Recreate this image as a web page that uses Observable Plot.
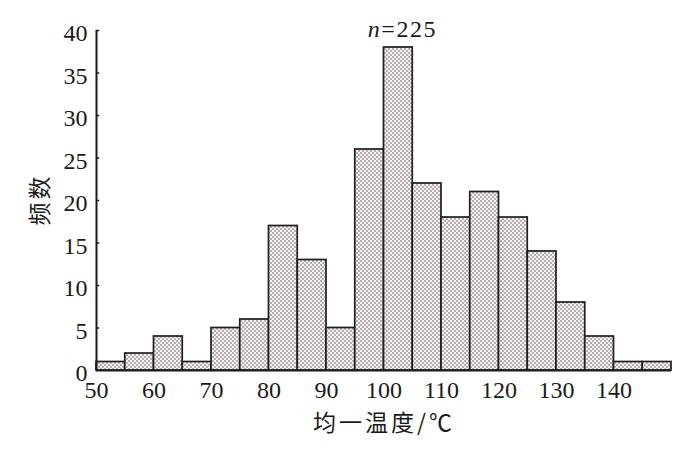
<!DOCTYPE html>
<html><head><meta charset="utf-8">
<script src="https://cdn.jsdelivr.net/npm/d3@7"></script>
<script src="https://cdn.jsdelivr.net/npm/@observablehq/plot@0.6"></script>
<style>body{margin:0;background:#fff}</style>
</head><body><div id="chart"></div>
<script>
const binStarts = [50,55,60,65,70,75,80,85,90,95,100,105,110,115,120,125,130,135,140,145];
const binEnds   = [55,60,65,70,75,80,85,90,95,100,105,110,115,120,125,130,135,140,145,150];
const counts    = [1,2,4,1,5,6,17,13,5,26,38,22,18,21,18,14,8,4,1,1];
const xTicks = [50,60,70,80,90,100,110,120,130,140];
const yTicks = [0,5,10,15,20,25,30,35,40];
const xTitle = "均一温度/℃";
const yTitle = "频数";
const annotation = "n=225";

const data = binStarts.map((s,i)=>({x1:s, x2:binEnds[i], count:counts[i]}));
const tallest = data.reduce((a,b)=> b.count > a.count ? b : a);
const serif = "'Liberation Serif', 'Times New Roman', serif";
const cjk = "'Noto Sans CJK SC', sans-serif";
const ink = "#1a1a1a";

const chart = Plot.plot({
  width: 700, height: 454,
  marginLeft: 96, marginRight: 29, marginTop: 30, marginBottom: 84,
  style: {fontFamily: serif, fontSize: "24px", background: "#fff", color: ink},
  x: {domain: [50,150]},
  y: {domain: [0,40]},
  marks: [
    Plot.rectY(data, {x1:"x1", x2:"x2", y:"count", fill:"#d6d2d2", stroke:"#1e1e1e", strokeWidth:1.7, inset:0}),
    Plot.ruleY([0], {stroke: ink, strokeWidth: 2}),
    Plot.ruleX([50], {y1: 0, y2: 40, stroke: ink, strokeWidth: 2}),
    Plot.ruleY(yTicks.slice(1), {x1: 50, x2: 50.55, stroke: ink, strokeWidth: 1.5}),
    Plot.axisX(xTicks, {tickSize: 0, tickPadding: 10, label: null, tickFormat: d => String(d), fontSize: 24}),
    Plot.axisY(yTicks, {tickSize: 0, tickPadding: 9, label: null, dy: 3, tickFormat: d => String(d), fontSize: 24}),
    Plot.text([xTitle], {frameAnchor: "bottom", dy: 60, fontFamily: cjk, fontSize: 23, fill: ink, className: "xtitle"}),
    Plot.text([yTitle], {frameAnchor: "left", dx: -56, dy: 25, rotate: -90, fontFamily: cjk, fontSize: 23, fill: ink, className: "ytitle"}),
    Plot.text([tallest], {x: d => (d.x1 + d.x2) / 2, y: () => 40, text: () => annotation, dx: 4, dy: 6, lineAnchor: "bottom", fontFamily: serif, fontSize: 24, fill: ink, className: "ann"})
  ]
});

const svg = d3.select(chart);
const defs = svg.insert("defs", ":first-child");
const pat = defs.append("pattern").attr("id","hatch").attr("patternUnits","userSpaceOnUse").attr("width",4).attr("height",4);
pat.append("rect").attr("width",4).attr("height",4).attr("fill","#f5f1f1");
pat.append("rect").attr("x",0).attr("y",0).attr("width",2).attr("height",2).attr("fill","#b5afaf");
pat.append("rect").attr("x",2).attr("y",2).attr("width",2).attr("height",2).attr("fill","#b5afaf");
svg.selectAll("rect").filter(function(){ return this.getAttribute("fill") === "#d6d2d2"; }).attr("fill","url(#hatch)");
svg.selectAll("g").filter(function(){ return this.getAttribute("fill") === "#d6d2d2"; }).attr("fill","url(#hatch)");
svg.selectAll("g[aria-label$='tick label']").attr("font-size", 24).attr("font-family", serif);
svg.selectAll(".xtitle text, .ytitle text").style("letter-spacing","3px");
svg.selectAll(".ann text").style("letter-spacing","1.5px");
svg.selectAll(".ann text").each(function(){
  const t = d3.select(this);
  const s = t.text();
  t.text(null);
  t.append("tspan").attr("font-style","italic").text(s.slice(0,1));
  t.append("tspan").text(s.slice(1));
});
document.getElementById("chart").appendChild(chart);
</script>
</body></html>
